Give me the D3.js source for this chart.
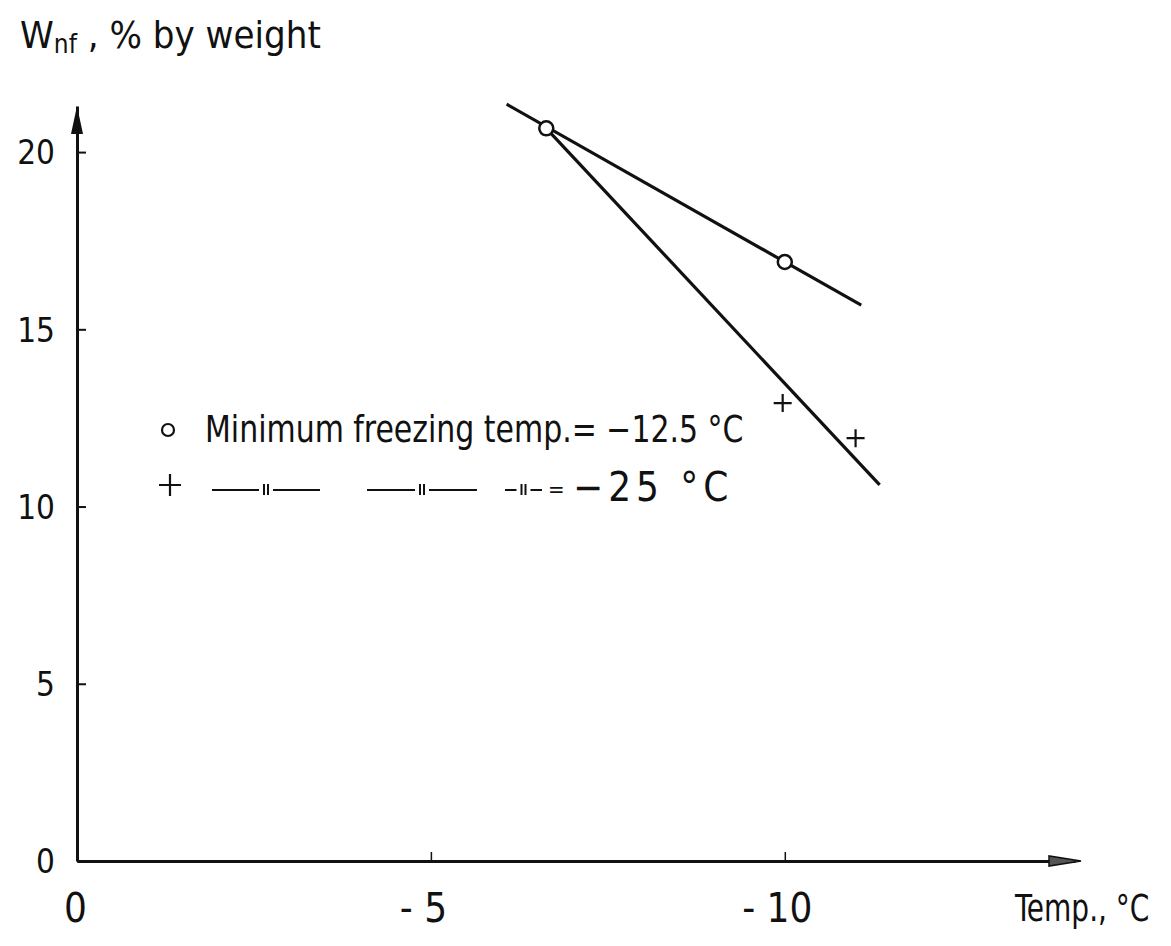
<!DOCTYPE html>
<html>
<head>
<meta charset="utf-8">
<script src="https://cdn.jsdelivr.net/npm/d3@7"></script>
<style>
  body { margin: 0; background: #fff; }
  text { font-family: "DejaVu Sans Condensed", "DejaVu Sans", sans-serif; fill: #111; }
</style>
</head>
<body>
<script>
// data (temperature in degC, unfrozen water in % by weight)
const xTicks = [0, -5, -10]
const yTicks = [0, 5, 10, 15, 20]
const circlePts = [[-6.63, 20.67], [-10.0, 16.9]]
const plusPts = [[-9.97, 12.92], [-11.0, 11.93]]
const lineA = [[-6.07, 21.35], [-11.08, 15.68]]
const lineB = [[-6.63, 20.67], [-11.34, 10.61]]

const w = 1171
const h = 946

const svg = d3.select('body')
    .append('svg')
    .attr('width', w)
    .attr('height', h)

// scales
const x = d3.scaleLinear().domain([0, -14.1]).range([77, 1075])
const y = d3.scaleLinear().domain([0, 21.3]).range([861, 106])

// x axis
const xAxis = svg.append('g')
    .attr('transform', `translate(0,${y(0)})`)
    .call(d3.axisBottom(x).tickValues(xTicks).tickSizeInner(-9).tickSizeOuter(0))
xAxis.select('.domain').attr('stroke', '#111').attr('stroke-width', 3)
xAxis.selectAll('.tick line').attr('stroke', '#111').attr('stroke-width', 1.5)
xAxis.selectAll('.tick text')
    .attr('font-size', 40)
    .attr('y', 61)
    .attr('dy', null)
    .attr('dx', d => d === 0 ? -2 : -8)
    .text(d => d === 0 ? '0' : '- ' + Math.abs(d))

// y axis
const yAxis = svg.append('g')
    .attr('transform', `translate(${x(0)},0)`)
    .call(d3.axisLeft(y).tickValues(yTicks).tickSizeInner(-9).tickSizeOuter(0))
yAxis.select('.domain').attr('stroke', '#111').attr('stroke-width', 3)
yAxis.selectAll('.tick line').attr('stroke', '#111').attr('stroke-width', 2)
yAxis.selectAll('.tick text')
    .attr('font-size', 33)
    .attr('x', -22)
    .attr('dy', '0.36em')

// arrow heads
const yTop = y(21.3)
svg.append('path')
    .attr('d', `M${x(0)},${yTop} L${x(0) - 6},${yTop + 28} L${x(0) + 6},${yTop + 28} Z`)
    .attr('fill', '#111')
const xEnd = x(-14.1)
svg.append('path')
    .attr('d', `M${xEnd + 6},${y(0)} L${xEnd - 26},${y(0) - 5} L${xEnd - 26},${y(0) + 5} Z`)
    .attr('fill', '#555')
    .attr('stroke', '#111')
    .attr('stroke-width', 1.5)

// axis titles
const title = svg.append('text')
    .attr('x', 20)
    .attr('y', 48)
    .attr('font-size', 38)
title.append('tspan').text('W')
title.append('tspan').attr('font-size', 26).attr('dy', 5).text('nf')
title.append('tspan').attr('dy', -5).text(' , % by weight')

svg.append('text')
    .attr('transform', 'translate(1015,921) scale(0.82,1)')
    .attr('font-size', 38)
    .text('Temp., °C')

// lines
const line = d3.line().x(d => x(d[0])).y(d => y(d[1]))
svg.selectAll('path.fit')
    .data([lineA, lineB])
    .enter()
    .append('path')
    .attr('class', 'fit')
    .attr('d', line)
    .attr('fill', 'none')
    .attr('stroke', '#111')
    .attr('stroke-width', 3.2)

// markers
svg.selectAll('circle.pt')
    .data(circlePts)
    .enter()
    .append('circle')
    .attr('class', 'pt')
    .attr('cx', d => x(d[0]))
    .attr('cy', d => y(d[1]))
    .attr('r', 7)
    .attr('fill', '#fff')
    .attr('stroke', '#111')
    .attr('stroke-width', 2.5)

svg.selectAll('path.plus')
    .data(plusPts)
    .enter()
    .append('path')
    .attr('class', 'plus')
    .attr('transform', d => `translate(${x(d[0])},${y(d[1])})`)
    .attr('d', 'M-9,0H9M0,-9V9')
    .attr('stroke', '#111')
    .attr('stroke-width', 2.2)

// legend
svg.append('circle')
    .attr('cx', 168).attr('cy', 430).attr('r', 6)
    .attr('fill', '#fff').attr('stroke', '#111').attr('stroke-width', 2.2)
svg.append('text')
    .attr('transform', 'translate(205,442) scale(0.9,1)')
    .attr('font-size', 37)
    .text('Minimum freezing temp.= −12.5 °C')

svg.append('path')
    .attr('d', 'M159,485H181M170,474V496')
    .attr('stroke', '#111').attr('stroke-width', 2.2)

// ditto marks
const ditto = [[212, 320], [367, 477], [505, 542]]
ditto.forEach(([a, b]) => {
    const m = (a + b) / 2
    svg.append('path')
        .attr('d', `M${a},490H${m - 7}M${m + 7},490H${b}M${m - 2},484V495M${m + 2},484V495`)
        .attr('stroke', '#111')
        .attr('stroke-width', 2)
})
svg.append('text')
    .attr('x', 548).attr('y', 497)
    .attr('font-size', 22)
    .text('=')
svg.append('text')
    .attr('x', 573).attr('y', 501)
    .attr('font-size', 40)
    .attr('letter-spacing', 5)
    .text('−25 °C')
</script>
</body>
</html>
